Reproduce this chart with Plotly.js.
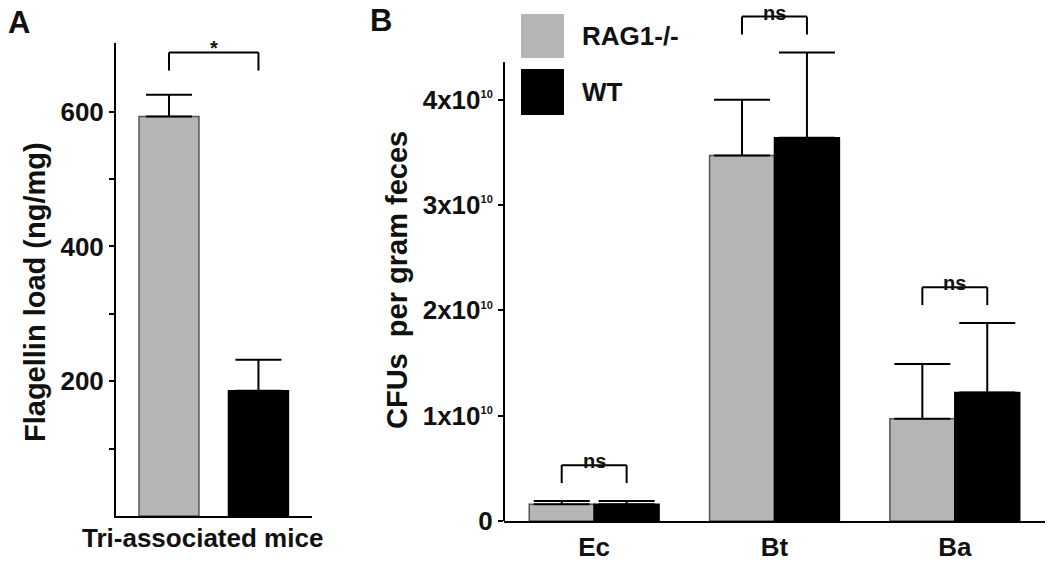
<!DOCTYPE html>
<html>
<head>
<meta charset="utf-8">
<script src="https://cdn.plot.ly/plotly-3.0.1.min.js"></script>
<style>html,body{margin:0;padding:0;background:#fff;}#chart{width:1050px;height:570px;}</style>
</head>
<body>
<div id="chart"></div>
<script>
// ---- Data ----
const seriesNames = ['RAG1-/-', 'WT'];
// Panel A
const aTitleX = 'Tri-associated mice';
const aTitleY = 'Flagellin load (ng/mg)';
const aGroups = ['RAG1-/-', 'WT'];
const aValues = [593, 186];
const aErrors = [32, 46];
const aSig = '*';
const aTickVals = [200, 400, 600];
const aTickText = ['200', '400', '600'];
const aMinorVals = [100, 300, 500];
// Panel B
const bTitleY = 'CFUs  per gram feces';
const bCategories = ['Ec', 'Bt', 'Ba'];
const ragValues = [0.16e10, 3.47e10, 0.97e10];
const ragErrors = [0.03e10, 0.53e10, 0.52e10];
const wtValues = [0.16e10, 3.64e10, 1.22e10];
const wtErrors = [0.03e10, 0.81e10, 0.66e10];
const bSig = ['ns', 'ns', 'ns'];
const bTickVals = [0, 1e10, 2e10, 3e10, 4e10];
const sup = '<sup><span style="font-size:11px">10</span></sup>';
const bTickText = ['0', '1x10' + sup, '2x10' + sup, '3x10' + sup, '4x10' + sup];

// ---- Styles ----
const GRAY = '#b5b5b5';
const BLACK = '#000000';
const TXT = '#111111';
const FONT = 'Liberation Sans, Arial, sans-serif';
const bold = (s, c) => ({family: FONT, size: s, color: c || TXT, weight: 'bold'});

const traces = [
  {
    type: 'bar', x: aGroups, y: aValues, xaxis: 'x', yaxis: 'y', width: 0.67,
    marker: {color: [GRAY, BLACK], line: {color: ['#555555', BLACK], width: 1.5}},
    error_y: {type: 'data', symmetric: false, array: aErrors, arrayminus: [0, 0], color: BLACK, thickness: 2, width: 23},
    showlegend: false, hoverinfo: 'none'
  },
  {
    type: 'bar', name: seriesNames[0], x: bCategories, y: ragValues, xaxis: 'x2', yaxis: 'y2',
    marker: {color: GRAY, line: {color: '#555555', width: 1.5}},
    error_y: {type: 'data', symmetric: false, array: ragErrors, arrayminus: [0, 0, 0], color: BLACK, thickness: 2, width: 28},
    showlegend: false, hoverinfo: 'none'
  },
  {
    type: 'bar', name: seriesNames[1], x: bCategories, y: wtValues, xaxis: 'x2', yaxis: 'y2',
    marker: {color: BLACK, line: {color: BLACK, width: 1.5}},
    error_y: {type: 'data', symmetric: false, array: wtErrors, arrayminus: [0, 0, 0], color: BLACK, thickness: 2, width: 28},
    showlegend: false, hoverinfo: 'none'
  }
];

const shapes = [];
const annotations = [];
const lineStyle = {color: BLACK, width: 2};

function bracket(xref, yref, xa, xb, yLeg, yTop, label, fs, ys) {
  shapes.push({type: 'line', xref, yref, x0: xa, x1: xa, y0: yLeg, y1: yTop, line: lineStyle});
  shapes.push({type: 'line', xref, yref, x0: xb, x1: xb, y0: yLeg, y1: yTop, line: lineStyle});
  shapes.push({type: 'line', xref, yref, x0: xa, x1: xb, y0: yTop, y1: yTop, line: lineStyle});
  annotations.push({xref, yref, x: (xa + xb) / 2, y: yTop, text: label, showarrow: false,
    yanchor: 'bottom', yshift: ys, font: bold(fs)});
}

// Panel A bracket
const aMax = Math.max(...aValues.map((v, i) => v + aErrors[i]));
bracket('x', 'y', 0, 1, aMax + 36, aMax + 63, aSig, 20, -9);

// Panel B brackets
const off = 0.18;
bCategories.forEach((c, i) => {
  const top = Math.max(ragValues[i] + ragErrors[i], wtValues[i] + wtErrors[i]);
  bracket('x2', 'y2', i - off, i + off, top + 0.17e10, top + 0.34e10, bSig[i], 20, -9);
});

// Panel B y axis line (only up to 4.36e10)
shapes.push({type: 'line', xref: 'x2 domain', yref: 'y2', x0: 0, x1: 0, y0: 0, y1: 4.36e10, line: {color: BLACK, width: 2}});

// Legend (panel B)
const legColors = [GRAY, BLACK];
const legY = [[0.8982, 0.9754], [0.7982, 0.8789]];
seriesNames.forEach((n, i) => {
  shapes.push({type: 'rect', xref: 'paper', yref: 'paper', x0: 0.4962, x1: 0.5371, y0: legY[i][0], y1: legY[i][1],
    fillcolor: legColors[i], line: {width: 0}});
  annotations.push({xref: 'paper', yref: 'paper', x: 0.5524, y: (legY[i][0] + legY[i][1]) / 2, text: n,
    showarrow: false, xanchor: 'left', yanchor: 'middle', font: bold(26)});
});

// Axis titles
annotations.push({xref: 'paper', yref: 'paper', x: 202 / 1050, y: 1 - 538 / 570, text: aTitleX, showarrow: false,
  xanchor: 'center', yanchor: 'middle', font: bold(26)});
annotations.push({xref: 'paper', yref: 'paper', x: 35 / 1050, y: 1 - 292 / 570, text: aTitleY, showarrow: false,
  textangle: -90, xanchor: 'center', yanchor: 'middle', font: bold(29)});
annotations.push({xref: 'paper', yref: 'paper', x: 397 / 1050, y: 1 - 280 / 570, text: bTitleY, showarrow: false,
  textangle: -90, xanchor: 'center', yanchor: 'middle', font: bold(29)});

// Panel labels
annotations.push({xref: 'paper', yref: 'paper', x: 0.0057, y: 0.9614, text: 'A', showarrow: false, xanchor: 'left', yanchor: 'middle', font: bold(31)});
annotations.push({xref: 'paper', yref: 'paper', x: 0.3505, y: 0.9632, text: 'B', showarrow: false, xanchor: 'left', yanchor: 'middle', font: bold(31)});

const layout = {
  width: 1050, height: 570,
  margin: {l: 0, r: 0, t: 0, b: 0},
  paper_bgcolor: '#ffffff', plot_bgcolor: '#ffffff',
  showlegend: false,
  barmode: 'group', bargap: 0.28, bargroupgap: 0,
  xaxis: {
    domain: [0.1105, 0.2971], anchor: 'y', type: 'category', range: [-0.592, 1.598],
    showticklabels: false, ticks: '', showline: true, linecolor: BLACK, linewidth: 2,
    showgrid: false, zeroline: false
  },
  yaxis: {
    domain: [0.0947, 0.9246], anchor: 'x', range: [0, 702],
    tickmode: 'array', tickvals: aTickVals, ticktext: aTickText, ticks: 'outside', ticklen: 5, tickwidth: 2, tickcolor: BLACK,
    minor: {tickmode: 'array', tickvals: aMinorVals, ticks: 'outside', ticklen: 5, tickwidth: 2, tickcolor: BLACK, showgrid: false},
    tickfont: bold(26), showline: true, linecolor: BLACK, linewidth: 2, showgrid: false, zeroline: false
  },
  xaxis2: {
    domain: [0.48, 0.9952], anchor: 'y2', type: 'category', range: [-0.5, 2.5],
    ticks: '', tickfont: bold(26), ticklabelstandoff: 2,
    showline: true, linecolor: BLACK, linewidth: 2, showgrid: false, zeroline: false
  },
  yaxis2: {
    domain: [0.086, 0.9912], anchor: 'x2', range: [0, 4.9e10],
    tickmode: 'array', tickvals: bTickVals, ticktext: bTickText, ticks: 'outside', ticklen: 5, tickwidth: 2, tickcolor: BLACK,
    tickfont: bold(26), showline: false, showgrid: false, zeroline: false
  },
  shapes: shapes,
  annotations: annotations
};

Plotly.newPlot('chart', traces, layout, {displayModeBar: false, staticPlot: true});
</script>
</body>
</html>
